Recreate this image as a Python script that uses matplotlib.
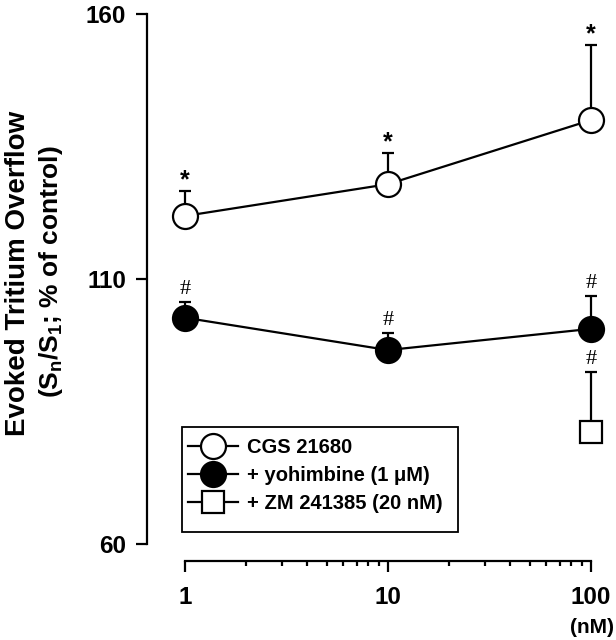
import numpy as np
import matplotlib
matplotlib.use("Agg")
import matplotlib.pyplot as plt
from matplotlib.patches import Rectangle
from matplotlib.ticker import FixedLocator, NullFormatter

plt.rcParams["font.family"] = ["Liberation Sans", "DejaVu Sans"]
plt.rcParams["mathtext.fontset"] = "custom"
plt.rcParams["mathtext.rm"] = "Liberation Sans:bold"
plt.rcParams["mathtext.it"] = "Liberation Sans:bold"

# concentrations (nM)
conc = [1, 10, 100]
cgs_mean = [121.9, 127.9, 140.0]
cgs_sem = [4.8, 5.9, 14.2]
yoh_mean = [102.7, 96.6, 100.6]
yoh_sem = [3.0, 3.2, 6.2]
zm_conc = [100]
zm_mean = [81.1]
zm_sem = [11.4]

cgs_marks = ["*", "*", "*"]
yoh_marks = ["#", "#", "#"]
zm_marks = ["#"]

fig = plt.figure(figsize=(6.16, 6.4), dpi=100)
ax = fig.add_axes([0.2386, 0.15, 0.7354, 0.828])

lw = 1.6
ms = 18

def draw(x, m, e, marker, face, label, msize=ms):
    ax.errorbar(x, m, yerr=[np.zeros(len(e)), e], fmt="none", ecolor="black",
                elinewidth=lw, capsize=4.3, capthick=lw, zorder=2, clip_on=False)
    ax.plot(x, m, color="black", lw=lw, marker=marker, markersize=msize,
            markerfacecolor=face, markeredgecolor="black", markeredgewidth=lw,
            label=label, zorder=3, clip_on=False)

draw(conc, cgs_mean, cgs_sem, "o", "white", "CGS 21680")
draw(conc, yoh_mean, yoh_sem, "o", "black", "+ yohimbine (1 \u03bcM)")
draw(zm_conc, zm_mean, zm_sem, "s", "white", "+ ZM 241385 (20 nM)", msize=16)

for x, m, e, s in zip(conc, cgs_mean, cgs_sem, cgs_marks):
    ax.annotate(s, (x, m + e), xytext=(0, -1), textcoords="offset points",
                ha="center", va="bottom", fontsize=18, fontweight="bold")
for x, m, e, s in zip(conc, yoh_mean, yoh_sem, yoh_marks):
    ax.annotate(s, (x, m + e), xytext=(0, 2), textcoords="offset points",
                ha="center", va="bottom", fontsize=16, family="Liberation Serif")
for x, m, e, s in zip(zm_conc, zm_mean, zm_sem, zm_marks):
    ax.annotate(s, (x, m + e), xytext=(0, 2), textcoords="offset points",
                ha="center", va="bottom", fontsize=16, family="Liberation Serif")

ax.set_xscale("log")
ax.set_xlim(0.65, 110.7)
ax.set_ylim(60, 160)

for side in ["top", "right"]:
    ax.spines[side].set_visible(False)
ax.spines["left"].set_bounds(60, 160)
ax.spines["left"].set_linewidth(lw)
ax.spines["bottom"].set_bounds(1, 100)
ax.spines["bottom"].set_position(("outward", 12))
ax.spines["bottom"].set_linewidth(lw)

ax.set_yticks([60, 110, 160])
ax.set_yticklabels(["60", "110", "160"], fontsize=17.5, fontweight="bold")
ax.tick_params(axis="y", direction="out", length=8, width=lw, pad=7)

ax.set_xticks(conc)
ax.set_xticklabels(["1", "10", "100"], fontsize=17.5, fontweight="bold")
minor = [k * d for d in (1, 10) for k in range(2, 10)]
ax.xaxis.set_minor_locator(FixedLocator(minor))
ax.xaxis.set_minor_formatter(NullFormatter())
ax.tick_params(axis="x", which="major", direction="out", length=8, width=lw, pad=10)
ax.tick_params(axis="x", which="minor", direction="out", length=3.3, width=lw)

fig.text(0.961, 0.019, "(nM)", ha="center", va="center", fontsize=15, fontweight="bold")

fig.text(0.030, 0.573, "Evoked Tritium Overflow", rotation=90, ha="center",
         va="center", fontsize=20, fontweight="bold")
fig.text(0.083, 0.576, r"(S$_\mathrm{n}$/S$_\mathrm{1}$; % of control)", rotation=90,
         ha="center", va="center", fontsize=19, fontweight="bold")

# legend frame drawn separately (padding in the original is uneven)
ax.add_patch(Rectangle((0.0773, 0.0226), 0.6092, 0.1982, transform=ax.transAxes,
                       fill=False, edgecolor="black", lw=1.3, zorder=4))
ax.legend(loc="upper left", bbox_to_anchor=(0.0905, 0.2), frameon=False,
          prop={"weight": "bold", "size": 14.5}, handlelength=2.5,
          labelspacing=0.45, borderpad=0, handletextpad=0.45, borderaxespad=0)

fig.savefig("out.png", dpi=100)
